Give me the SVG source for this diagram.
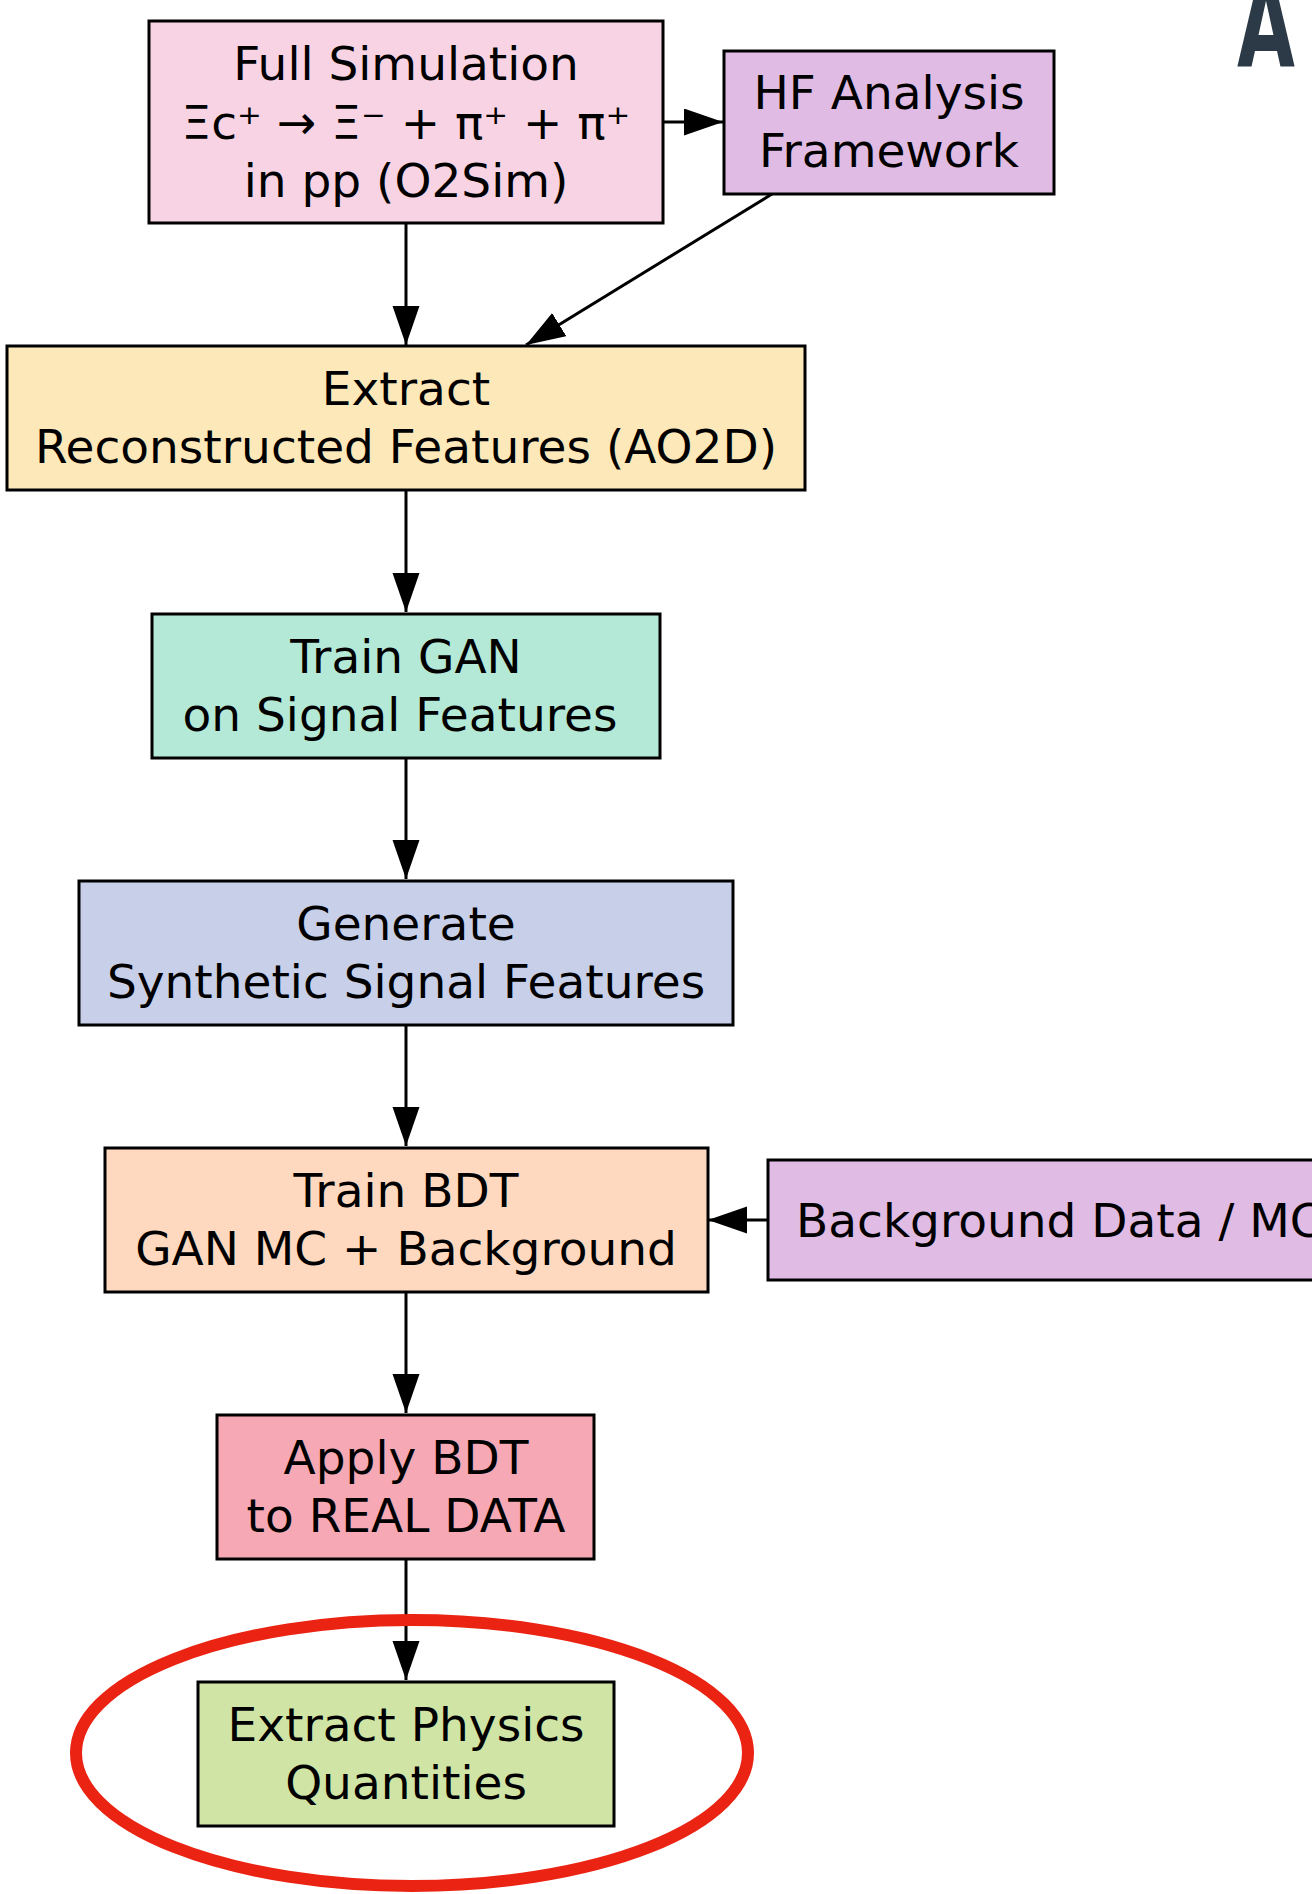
<svg xmlns="http://www.w3.org/2000/svg" width="1312" height="1894" viewBox="0 0 1312 1894">
  <style>
    .box { stroke: #000; stroke-width: 3; }
    .lbl { font-family: "DejaVu Sans", "Noto Sans", sans-serif; font-size: 47px; fill: #000; text-anchor: middle; }
    .edge { fill: none; stroke: #000; stroke-width: 3; marker-end: url(#arrow); }
  </style>
  <defs>
    <marker id="arrow" markerUnits="userSpaceOnUse" markerWidth="40" markerHeight="28" refX="39" refY="13.5" orient="auto">
      <path d="M0,0 L39,13.5 L0,27 Z" fill="#000"/>
    </marker>
  </defs>
  <rect width="1312" height="1894" fill="#fff"/>

  <!-- corner letter, partly clipped by the top edge -->
  <text x="1266" y="67" font-family="DejaVu Sans, sans-serif" font-weight="bold" font-size="118" fill="#2c3a47" text-anchor="middle" textLength="58" lengthAdjust="spacingAndGlyphs">A</text>

  <!-- connectors -->
  <g id="connectors">
    <line class="edge" x1="663" y1="122" x2="723" y2="122"/>
    <line class="edge" x1="406" y1="223" x2="406" y2="345"/>
    <line class="edge" x1="772" y1="194" x2="526" y2="345"/>
    <line class="edge" x1="406" y1="490" x2="406" y2="612"/>
    <line class="edge" x1="406" y1="758" x2="406" y2="879"/>
    <line class="edge" x1="406" y1="1025" x2="406" y2="1146"/>
    <line class="edge" x1="768" y1="1220" x2="708" y2="1220"/>
    <line class="edge" x1="406" y1="1292" x2="406" y2="1413"/>
    <line class="edge" x1="406" y1="1559" x2="406" y2="1680"/>
  </g>

  <g id="full-simulation">
    <rect class="box" x="149" y="21" width="514" height="202" fill="#f8d3e4"/>
    <text class="lbl" x="406" y="80">Full Simulation</text>
    <text class="lbl" x="406" y="139">Ξc⁺ → Ξ⁻ + π⁺ + π⁺</text>
    <text class="lbl" x="406" y="197">in pp (O2Sim)</text>
  </g>

  <g id="hf-framework">
    <rect class="box" x="724" y="51" width="330" height="143" fill="#e0bbe4"/>
    <text class="lbl" x="889" y="109">HF Analysis</text>
    <text class="lbl" x="889" y="167">Framework</text>
  </g>

  <g id="extract-features">
    <rect class="box" x="7" y="346" width="798" height="144" fill="#fde8b9"/>
    <text class="lbl" x="406" y="405">Extract</text>
    <text class="lbl" x="406" y="463">Reconstructed Features (AO2D)</text>
  </g>

  <g id="train-gan">
    <rect class="box" x="152" y="614" width="508" height="144" fill="#b3e9d6"/>
    <text class="lbl" x="406" y="673">Train GAN</text>
    <text class="lbl" x="400" y="731">on Signal Features</text>
  </g>

  <g id="generate">
    <rect class="box" x="79" y="881" width="654" height="144" fill="#c8cfe9"/>
    <text class="lbl" x="406" y="940">Generate</text>
    <text class="lbl" x="406" y="998">Synthetic Signal Features</text>
  </g>

  <g id="train-bdt">
    <rect class="box" x="105" y="1148" width="603" height="144" fill="#fed9bf"/>
    <text class="lbl" x="406" y="1207">Train BDT</text>
    <text class="lbl" x="406" y="1265">GAN MC + Background</text>
  </g>

  <g id="background">
    <rect class="box" x="768" y="1160" width="580" height="120" fill="#e0bbe4"/>
    <text class="lbl" x="796" y="1237" style="text-anchor:start">Background Data / MC</text>
  </g>

  <g id="apply-bdt">
    <rect class="box" x="217" y="1415" width="377" height="144" fill="#f6a9b4"/>
    <text class="lbl" x="406" y="1474">Apply BDT</text>
    <text class="lbl" x="406" y="1532">to REAL DATA</text>
  </g>

  <g id="extract-physics">
    <rect class="box" x="198" y="1682" width="416" height="144" fill="#d0e5a5"/>
    <text class="lbl" x="406" y="1741">Extract Physics</text>
    <text class="lbl" x="406" y="1799">Quantities</text>
  </g>

  <!-- highlight ring -->
  <ellipse cx="412" cy="1753" rx="336" ry="133" fill="none" stroke="#ea2312" stroke-width="12"/>
</svg>
